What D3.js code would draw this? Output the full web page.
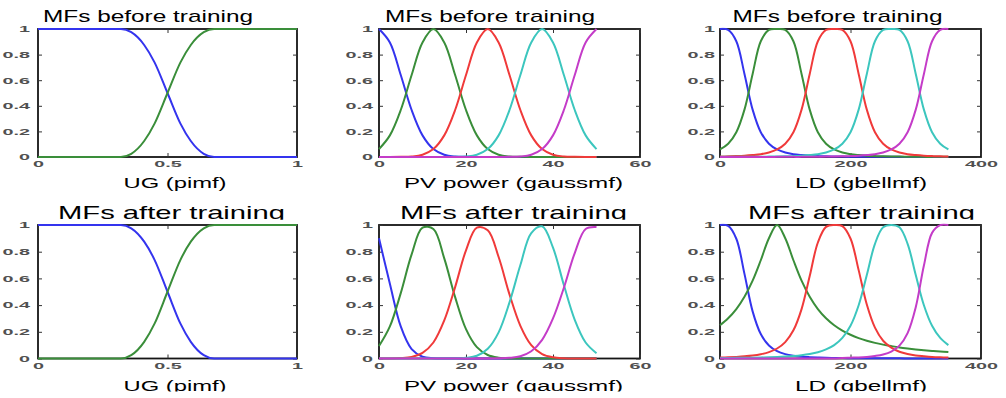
<!DOCTYPE html>
<html>
<head>
<meta charset="utf-8">
<script src="https://cdn.jsdelivr.net/npm/d3@7"></script>
<style>
  body { margin: 0; background: #fff; }
  svg { display: block; }
</style>
</head>
<body>
<svg id="chart"></svg>
<script>
// membership values, one row per MF (blue, green, red, cyan, magenta)
const ugX = [0, 0.32, 0.36, 0.41, 0.45, 0.5, 0.55, 0.59, 0.64, 0.68, 1];
const ugBefore = [
  [1, 1, 0.975, 0.875, 0.739, 0.5, 0.261, 0.125, 0.025, 0, 0],
  [0, 0, 0.025, 0.125, 0.261, 0.5, 0.739, 0.875, 0.975, 1, 1]
];
const ugAfter = [
  [1, 1, 0.975, 0.875, 0.739, 0.5, 0.261, 0.125, 0.025, 0, 0],
  [0, 0, 0.025, 0.125, 0.261, 0.5, 0.739, 0.875, 0.975, 1, 1]
];

const pvX = [0, 2.5, 5, 7.5, 10, 12.5, 15, 17.5, 20, 22.5, 25, 27.5, 30, 32.5, 35, 37.5, 40, 42.5, 45, 47.5, 50];
const pvBefore = [
  [1, .895, .641, .367, .169, .062, .018, .004, .001, 0, 0, 0, 0, 0, 0, 0, 0, 0, 0, 0, 0],
  [.062, .169, .367, .641, .895, 1, .895, .641, .367, .169, .062, .018, .004, .001, 0, 0, 0, 0, 0, 0, 0],
  [0, 0, .001, .004, .018, .062, .169, .367, .641, .895, 1, .895, .641, .367, .169, .062, .018, .004, .001, 0, 0],
  [0, 0, 0, 0, 0, 0, 0, .001, .004, .018, .062, .169, .367, .641, .895, 1, .895, .641, .367, .169, .062],
  [0, 0, 0, 0, 0, 0, 0, 0, 0, 0, 0, 0, .001, .004, .018, .062, .169, .367, .641, .895, 1]
];
const pvAfter = [
  [.9, .56, .24, .07, .013, .002, 0, 0, 0, 0, 0, 0, 0, 0, 0, 0, 0, 0, 0, 0, 0],
  [.093, .24, .49, .78, .98, .97, .75, .46, .22, .085, .026, .006, 0, 0, 0, 0, 0, 0, 0, 0, 0],
  [0, 0, .003, .012, .042, .12, .285, .535, .81, .98, .96, .76, .48, .245, .1, .033, .009, .002, 0, 0, 0],
  [0, 0, 0, 0, 0, 0, 0, 0, .005, .021, .073, .196, .42, .7, .94, .99, .83, .55, .29, .12, .04],
  [0, 0, 0, 0, 0, 0, 0, 0, 0, 0, 0, .001, .005, .017, .054, .14, .3, .53, .79, .97, .985]
];

const ldX = [0, 12.5, 25, 37.5, 50, 62.5, 75, 87.5, 100, 112.5, 125, 137.5, 150, 162.5, 175, 187.5,
             200, 212.5, 225, 237.5, 250, 262.5, 275, 287.5, 300, 312.5, 325, 337.5, 350];
const ldBefore = [
  [1, .993, .904, .649, .37, .194, .104, .059, .035, .022, .015, .01, .007, .005, .004, .003, .002, .002, .001, .001, .001, .001, .001, 0, 0, 0, 0, 0, 0],
  [.059, .104, .194, .37, .649, .904, .993, 1, .993, .904, .649, .37, .194, .104, .059, .035, .022, .015, .01, .007, .005, .004, .003, .002, .002, .001, .001, .001, .001],
  [.004, .005, .007, .01, .015, .022, .035, .059, .104, .194, .37, .649, .904, .993, 1, .993, .904, .649, .37, .194, .104, .059, .035, .022, .015, .01, .007, .005, .004],
  [.001, .001, .001, .001, .002, .002, .003, .004, .005, .007, .01, .015, .022, .035, .059, .104, .194, .37, .649, .904, .993, 1, .993, .904, .649, .37, .194, .104, .059],
  [0, 0, 0, 0, 0, 0, 0, .001, .001, .001, .001, .002, .002, .003, .004, .005, .007, .01, .015, .022, .035, .059, .104, .194, .37, .649, .904, .993, 1]
];
const ldAfter = [
  [1, .993, .897, .634, .353, .183, .098, .055, .033, .021, .014, .01, .007, .005, .004, .003, .002, .002, .001, .001, .001, .001, .001, 0, 0, 0, 0, 0, 0],
  [.249, .301, .37, .462, .583, .736, .901, 1, .901, .736, .583, .462, .37, .301, .249, .209, .178, .153, .133, .117, .104, .093, .083, .075, .068, .062, .057, .053, .049],
  [.007, .009, .012, .016, .022, .032, .048, .075, .123, .211, .37, .618, .869, .986, 1, .992, .899, .662, .404, .231, .133, .081, .051, .034, .023, .017, .012, .009, .007],
  [.003, .004, .005, .005, .006, .008, .01, .012, .015, .019, .025, .034, .047, .068, .1, .154, .245, .399, .625, .859, .983, 1, .983, .859, .625, .399, .245, .154, .1],
  [0, 0, 0, 0, 0, 0, 0, 0, 0, 0, 0, 0, 0, 0, 0, .004, .006, .008, .012, .019, .03, .052, .096, .19, .384, .696, .941, .999, 1]
];

const ugTicks = [0, 0.5, 1];
const pvTicks = [0, 20, 40, 60];
const ldTicks = [0, 200, 400];
const yTicks = [0, 0.2, 0.4, 0.6, 0.8, 1];
const titles = ["MFs before training", "MFs after training"];
const axisLabels = ["UG (pimf)", "PV power (gaussmf)", "LD (gbellmf)"];

// ---- layout ----
const mfColors = ["#3434ee", "#3a8e3a", "#f03a3a", "#3cc6be", "#c43cc8"];
const colLeft = [38, 379, 720], colRight = [297, 640, 981];
const rowTop = [29, 225], rowBottom = [157, 358.5];
const labelGap = [8, 6, 5];
const titleCx = [[148, 490, 837.5], [171.5, 513.5, 861.5]];
const titleBase = [22, 219], titleW = [210, 227], titleSize = [17, 18.5];
const labelCx = [175, 513.5, 861], labelBase = [187.5, 390.5], labelW = [103, 219, 132];
const font = "'Liberation Sans', Arial, Helvetica, sans-serif";
const squeeze = 2.2; // tick digits are drawn very wide in the picture

const panels = [
  {row: 0, col: 0, x: ugX, ticks: ugTicks, series: ugBefore, smooth: d3.curveMonotoneX},
  {row: 0, col: 1, x: pvX, ticks: pvTicks, series: pvBefore, smooth: d3.curveCatmullRom.alpha(0.5)},
  {row: 0, col: 2, x: ldX, ticks: ldTicks, series: ldBefore, smooth: d3.curveCatmullRom.alpha(0.5)},
  {row: 1, col: 0, x: ugX, ticks: ugTicks, series: ugAfter, smooth: d3.curveMonotoneX},
  {row: 1, col: 1, x: pvX, ticks: pvTicks, series: pvAfter, smooth: d3.curveCatmullRom.alpha(0.5)},
  {row: 1, col: 2, x: ldX, ticks: ldTicks, series: ldAfter, smooth: d3.curveCatmullRom.alpha(0.5)}
];

const svg = d3.select("#chart").attr("width", 1006).attr("height", 398);
const defs = svg.append("defs");

// clip for the bottom row texts, which are cut off in the picture
defs.append("clipPath").attr("id", "cutTitle").append("rect")
  .attr("x", 0).attr("y", 195).attr("width", 1006).attr("height", 24.8);
defs.append("clipPath").attr("id", "cutLabel").append("rect")
  .attr("x", 0).attr("y", 365).attr("width", 1006).attr("height", 26.5);

panels.forEach((p, i) => {
  const x0 = colLeft[p.col], x1 = colRight[p.col];
  const y0 = rowTop[p.row], y1 = rowBottom[p.row];
  const x = d3.scaleLinear().domain([0, p.ticks[p.ticks.length - 1]]).range([x0, x1]);
  const y = d3.scaleLinear().domain([0, 1]).range([y1, y0]);
  const g = svg.append("g");

  // box
  g.append("rect")
    .attr("x", x0).attr("y", y0)
    .attr("width", x1 - x0).attr("height", y1 - y0)
    .attr("fill", "none").attr("stroke", "#151515").attr("stroke-width", 1.8);

  // axes, ticks point inward
  const fmt = d => String(d);
  const left = g.append("g").attr("transform", `translate(${x0},0)`)
    .call(d3.axisLeft(y).tickValues(yTicks).tickSize(-4).tickPadding(labelGap[p.col]).tickFormat(fmt));
  const bottom = g.append("g").attr("transform", `translate(0,${y1})`)
    .call(d3.axisBottom(x).tickValues(p.ticks).tickSize(-4).tickPadding(p.row ? 4 : 3.5).tickFormat(fmt));
  const right = g.append("g").attr("transform", `translate(${x1},0)`)
    .call(d3.axisRight(y).tickValues(yTicks).tickSize(-4).tickFormat(() => ""));
  const top = g.append("g").attr("transform", `translate(0,${y0})`)
    .call(d3.axisTop(x).tickValues(p.ticks).tickSize(-4).tickFormat(() => ""));

  [left, bottom, right, top].forEach(a => {
    a.select(".domain").remove();
    a.selectAll("line").attr("stroke", "#333");
    a.attr("font-family", font).attr("font-size", 9).attr("font-weight", "bold");
    a.selectAll("text").attr("fill", "#505050");
  });
  left.selectAll("text")
    .attr("x", -labelGap[p.col] / squeeze)
    .attr("transform", `scale(${squeeze},1)`);
  bottom.selectAll("text").attr("transform", `scale(${squeeze},1)`);

  // curves
  const clipId = "plot" + i;
  defs.append("clipPath").attr("id", clipId).append("rect")
    .attr("x", x0 - 1).attr("y", y0 - 1.5)
    .attr("width", x1 - x0 + 2).attr("height", y1 - y0 + 3);

  const line = d3.line()
    .x((d, j) => x(p.x[j]))
    .y(d => y(d))
    .curve(p.smooth);

  g.append("g").attr("clip-path", `url(#${clipId})`)
    .selectAll("path")
    .data(p.series)
    .join("path")
    .attr("d", line)
    .attr("fill", "none")
    .attr("stroke", (d, k) => mfColors[k])
    .attr("stroke-width", 2)
    .attr("stroke-linejoin", "round");

  // title above, variable name below
  const tw = titleW[p.row];
  g.append("text")
    .attr("x", titleCx[p.row][p.col] - tw / 2)
    .attr("y", titleBase[p.row])
    .attr("textLength", tw)
    .attr("lengthAdjust", "spacingAndGlyphs")
    .attr("font-family", font)
    .attr("font-size", titleSize[p.row])
    .attr("fill", "#000")
    .attr("clip-path", p.row ? "url(#cutTitle)" : null)
    .text(titles[p.row]);

  const lw = labelW[p.col];
  g.append("text")
    .attr("x", labelCx[p.col] - lw / 2)
    .attr("y", labelBase[p.row])
    .attr("textLength", lw)
    .attr("lengthAdjust", "spacingAndGlyphs")
    .attr("font-family", font)
    .attr("font-size", 15.4)
    .attr("fill", "#000")
    .attr("clip-path", p.row ? "url(#cutLabel)" : null)
    .text(axisLabels[p.col]);
});
</script>
</body>
</html>
